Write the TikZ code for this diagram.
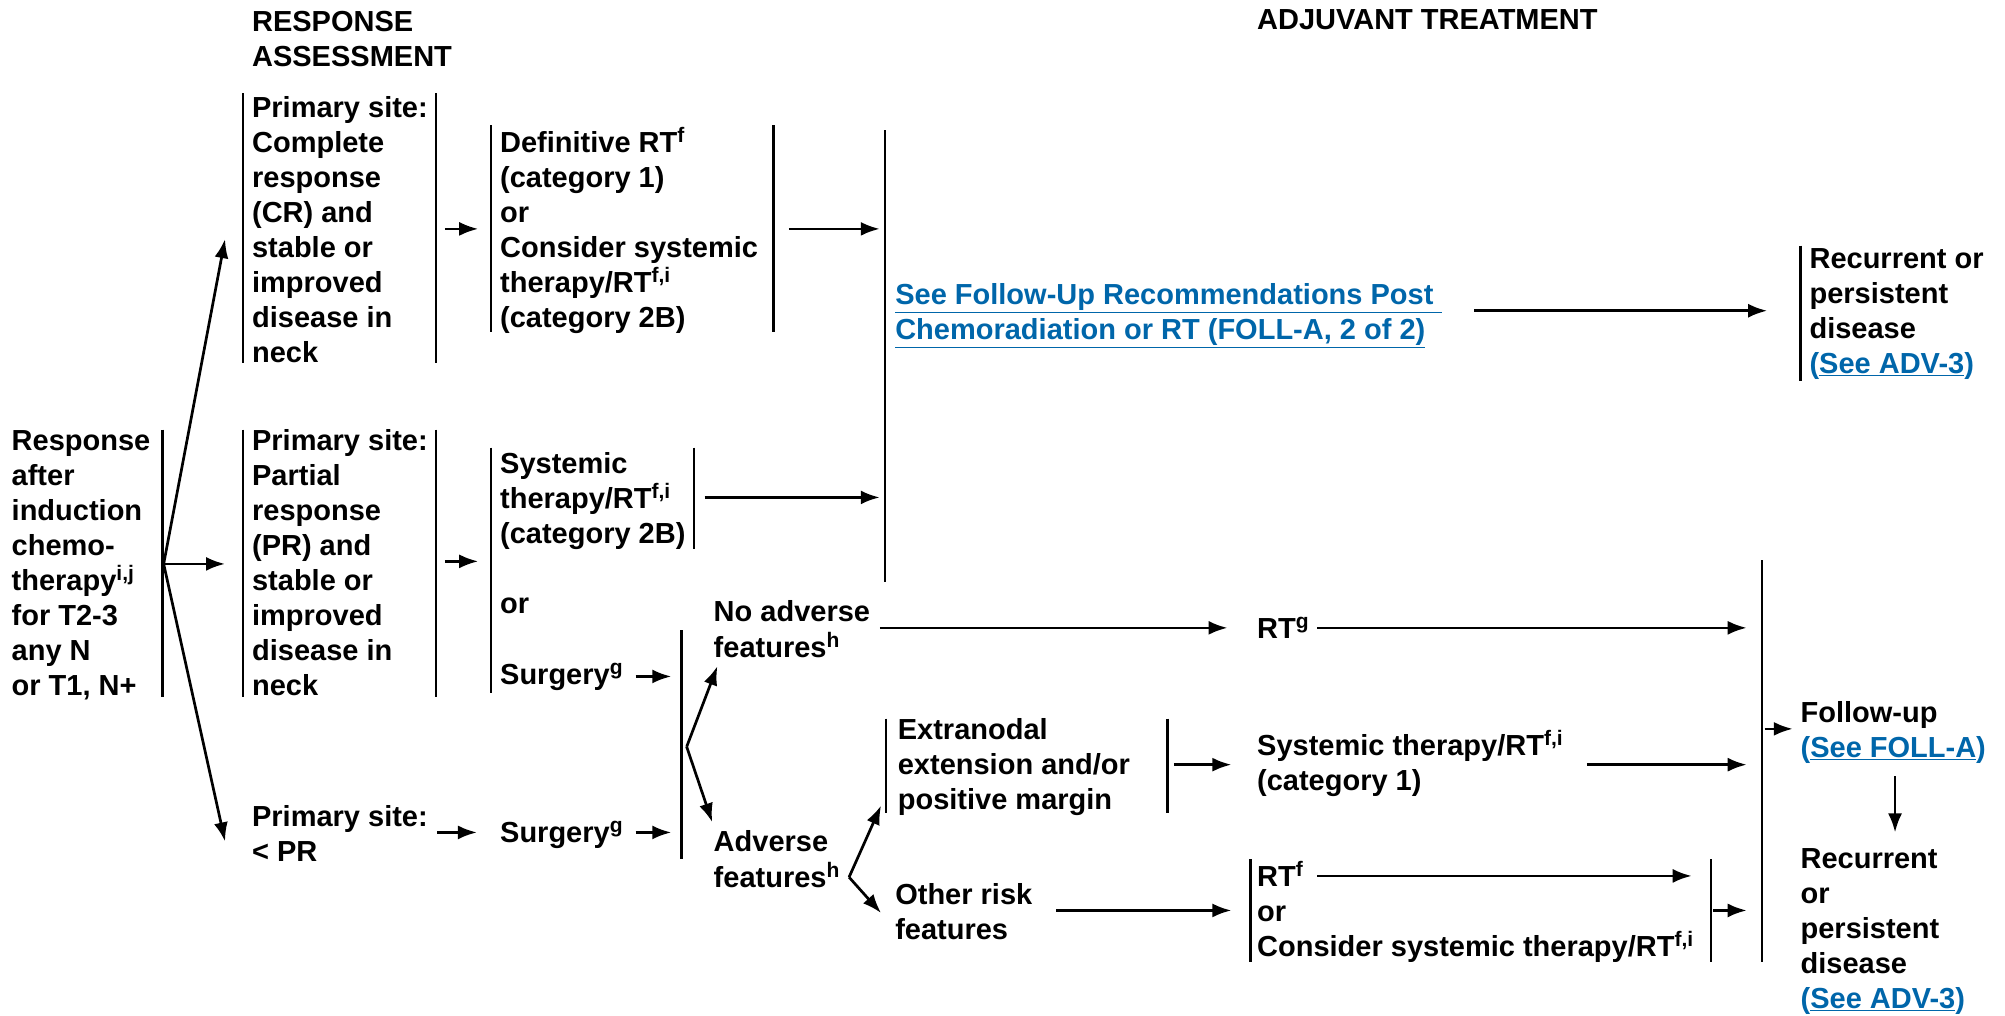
\documentclass[tikz,border=0pt]{standalone}
\usepackage{fontspec}
\setmainfont{Liberation Sans}
\usetikzlibrary{arrows.meta}
\definecolor{linkblue}{RGB}{0,102,170}
% multi-line text block whose baseline is the first line
\newcommand{\blk}[1]{\begin{tabular}[t]{@{}l@{}}#1\end{tabular}}
\newcommand{\bodyfont}{\fontsize{29}{35}\selectfont\bfseries}
\newcommand{\lk}[1]{\textcolor{linkblue}{#1}}
% footnote markers
\newcommand{\sups}[1]{\raisebox{10pt}{\fontsize{21}{21}\selectfont #1}}
\begin{document}
\begin{tikzpicture}[x=1.2787pt,y=-1.2787pt,
  txt/.style={anchor=base west, inner sep=0pt, font=\bodyfont},
  bar/.style={line width=2.3pt},
  arr/.style={line width=2.7pt, -{Latex[length=19pt,width=14pt]}}]
\useasboundingbox (0,0) rectangle (1568,794);

% ---------- column headings ----------
\node[txt] (hdrA) at (197,25) {\blk{RESPONSE\\ASSESSMENT}};
\node[txt] (hdrB) at (983,23) {ADJUVANT TREATMENT};

% ---------- text blocks ----------
\node[txt] (start) at (9,352) {\blk{Response\\after\\induction\\chemo-\\therapy\sups{i,j}\\for T2-3\\any N\\or T1, N+}};
\node[txt] (cr) at (197,92) {\blk{Primary site:\\Complete\\response\\(CR) and\\stable or\\improved\\disease in\\neck}};
\node[txt] (defrt) at (391,119) {\blk{Definitive RT\sups{f}\\(category 1)\\or\\Consider systemic\\therapy/RT\sups{f,i}\\(category 2B)}};
\node[txt] (foll) at (700,238) {\lk{\blk{\underline{See Follow-Up Recommendations Post }\\\underline{Chemoradiation or RT (FOLL-A, 2 of 2)}}}};
\node[txt] (recA) at (1415,210) {\blk{Recurrent or\\persistent\\disease\\\lk{(\underline{See ADV-3})}}};
\node[txt] (pr) at (197,352) {\blk{Primary site:\\Partial\\response\\(PR) and\\stable or\\improved\\disease in\\neck}};
\node[txt] (sysA) at (391,370) {\blk{Systemic\\therapy/RT\sups{f,i}\\(category 2B)}};
\node[txt] (orA) at (391,480) {or};
\node[txt] (surgA) at (391,535) {Surgery\sups{g}};
\node[txt] (noadv) at (558,486) {\blk{No adverse\\features\sups{h}}};
\node[txt] (rtg) at (983,499) {RT\sups{g}};
\node[txt] (ltpr) at (197,646) {\blk{Primary site:\\< PR}};
\node[txt] (surgB) at (391,659) {Surgery\sups{g}};
\node[txt] (adv) at (558,666) {\blk{Adverse\\features\sups{h}}};
\node[txt] (extra) at (702,578) {\blk{Extranodal\\extension and/or\\positive margin}};
\node[txt] (sysB) at (983,591) {\blk{Systemic therapy/RT\sups{f,i}\\(category 1)}};
\node[txt] (other) at (700,707) {\blk{Other risk\\features}};
\node[txt] (rtf) at (983,693) {\blk{RT\sups{f}\\or\\Consider systemic therapy/RT\sups{f,i}}};
\node[txt] (fup) at (1408,565) {\blk{Follow-up\\\lk{(\underline{See FOLL-A})}}};
\node[txt] (recB) at (1408,679) {\blk{Recurrent\\or\\persistent\\disease\\\lk{(\underline{See ADV-3})}}};

% ---------- bracket bars ----------
\coordinate (s1) at (127,336); \coordinate (s2) at (127,545);
\coordinate (cr1) at (190,73); \coordinate (cr2) at (190,284);
\coordinate (cr3) at (341,73); \coordinate (cr4) at (341,284);
\coordinate (d1) at (384,98); \coordinate (d2) at (384,260);
\coordinate (d3) at (605,98); \coordinate (d4) at (605,260);
\coordinate (g1) at (692,102); \coordinate (g2) at (692,455);
\coordinate (ra1) at (1408,192); \coordinate (ra2) at (1408,298);
\coordinate (p1) at (190,336); \coordinate (p2) at (190,545);
\coordinate (p3) at (341,336); \coordinate (p4) at (341,545);
\coordinate (q1) at (384,350); \coordinate (q2) at (384,542);
\coordinate (q3) at (543,350); \coordinate (q4) at (543,429);
\coordinate (sb1) at (533,493); \coordinate (sb2) at (533,672);
\coordinate (e1) at (693,562); \coordinate (e2) at (693,636);
\coordinate (e3) at (913,562); \coordinate (e4) at (913,636);
\coordinate (r1) at (978,672); \coordinate (r2) at (978,752);
\coordinate (r3) at (1338,672); \coordinate (r4) at (1338,752);
\coordinate (h1) at (1378,438); \coordinate (h2) at (1378,752);
\foreach \a/\b in {s1/s2,cr1/cr2,cr3/cr4,d1/d2,d3/d4,g1/g2,ra1/ra2,p1/p2,p3/p4,
  q1/q2,q3/q4,sb1/sb2,e1/e2,e3/e4,r1/r2,r3/r4,h1/h2}
  \draw[bar] (\a) -- (\b);

% ---------- connectors ----------
\coordinate (f0) at (128,441);
\coordinate (f0a) at (176,187); \coordinate (f0b) at (176,441); \coordinate (f0c) at (176,658);
\draw[arr] (f0) -- (f0a);
\draw[arr] (f0) -- (f0b);
\draw[arr] (f0) -- (f0c);

\coordinate (a1s) at (348,179); \coordinate (a1e) at (374,179);
\coordinate (a2s) at (617,179); \coordinate (a2e) at (688,179);
\coordinate (a3s) at (348,439); \coordinate (a3e) at (374,439);
\coordinate (a4s) at (551,389); \coordinate (a4e) at (688,389);
\coordinate (a5s) at (1153,243); \coordinate (a5e) at (1382,243);
\coordinate (a6s) at (497,529); \coordinate (a6e) at (525,529);
\coordinate (a7s) at (342,651); \coordinate (a7e) at (373,651);
\coordinate (a8s) at (497,651); \coordinate (a8e) at (525,651);
\coordinate (a9s) at (688,491); \coordinate (a9e) at (960,491);
\coordinate (a10s) at (1030,491); \coordinate (a10e) at (1366,491);
\coordinate (a11s) at (918,598); \coordinate (a11e) at (963,598);
\coordinate (a12s) at (1241,598); \coordinate (a12e) at (1366,598);
\coordinate (a13s) at (826,712); \coordinate (a13e) at (963,712);
\coordinate (a14s) at (1030,685); \coordinate (a14e) at (1323,685);
\coordinate (a15s) at (1340,712); \coordinate (a15e) at (1366,712);
\coordinate (a16s) at (1380,570); \coordinate (a16e) at (1402,570);
\coordinate (a17s) at (1482,607); \coordinate (a17e) at (1482,651);
\foreach \n in {1,...,17}
  \draw[arr] (a\n s) -- (a\n e);

% forks after surgery and after adverse features
\coordinate (v1) at (537,584);
\coordinate (v1a) at (561,521); \coordinate (v1b) at (557,643);
\draw[arr] (v1) -- (v1a);
\draw[arr] (v1) -- (v1b);
\coordinate (v2) at (664,686);
\coordinate (v2a) at (689,630); \coordinate (v2b) at (689,714);
\draw[arr] (v2) -- (v2a);
\draw[arr] (v2) -- (v2b);
\end{tikzpicture}
\end{document}
